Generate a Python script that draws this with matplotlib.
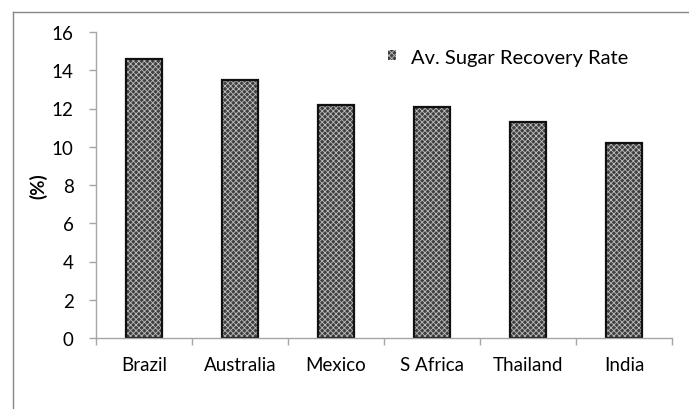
import matplotlib
matplotlib.use("Agg")
import matplotlib.pyplot as plt
from matplotlib.lines import Line2D

countries = ["Brazil", "Australia", "Mexico", "S Africa", "Thailand", "India"]
recovery = [14.6, 13.5, 12.2, 12.1, 11.3, 10.2]
y_ticks = [0, 2, 4, 6, 8, 10, 12, 14, 16]

plt.rcParams['font.family'] = ['Lato', 'DejaVu Sans']
plt.rcParams['hatch.linewidth'] = 0.6

W, H = 689, 410
fig = plt.figure(figsize=(W / 100, H / 100), dpi=100)
ax = fig.add_axes([96 / W, 1 - 339 / H, (672 - 96) / W, (339 - 33) / H])

x = range(len(countries))
# patterned fill first, then a plain black outline on top
ax.bar(x, recovery, width=0.38, color='#404040', edgecolor='#bdbdbd',
       hatch='xxxxxx', linewidth=0, label='Av. Sugar Recovery Rate')
ax.bar(x, recovery, width=0.38, fill=False, edgecolor='#111111', linewidth=1.6)

ax.set_xlim(-0.5, len(countries) - 0.5)
ax.set_ylim(0, 16)
ax.set_yticks(y_ticks)
ax.set_xticks(list(x))
ax.set_xticklabels(countries)
ax.set_xticks([i - 0.5 for i in range(len(countries) + 1)], minor=True)
ax.tick_params(axis='x', which='major', length=0, pad=13, labelsize=13.5)
ax.tick_params(axis='x', which='minor', length=5, color='#a6a6a6', width=1)
ax.tick_params(axis='y', length=5, color='#a6a6a6', width=1, pad=11, labelsize=13.5)

for s in ['top', 'right']:
    ax.spines[s].set_visible(False)
for s in ['left', 'bottom']:
    ax.spines[s].set_color('#a6a6a6')
    ax.spines[s].set_linewidth(1)

ax.set_ylabel('(%)', fontsize=13.5, fontweight='bold', labelpad=3)

leg = ax.legend(loc='center left', bbox_to_anchor=(0.507, 0.918), frameon=False,
                fontsize=14.5, handlelength=0.4, handleheight=0.4,
                handletextpad=0.75, borderpad=0, borderaxespad=0)

# chart area frame (left and top edges)
fig.add_artist(Line2D([12.5 / W, 12.5 / W], [0, 1 - 12.5 / H],
                      transform=fig.transFigure, color='#868686', linewidth=1))
fig.add_artist(Line2D([12.5 / W, 1], [1 - 12.5 / H, 1 - 12.5 / H],
                      transform=fig.transFigure, color='#868686', linewidth=1))

fig.savefig('out.png', dpi=100)
